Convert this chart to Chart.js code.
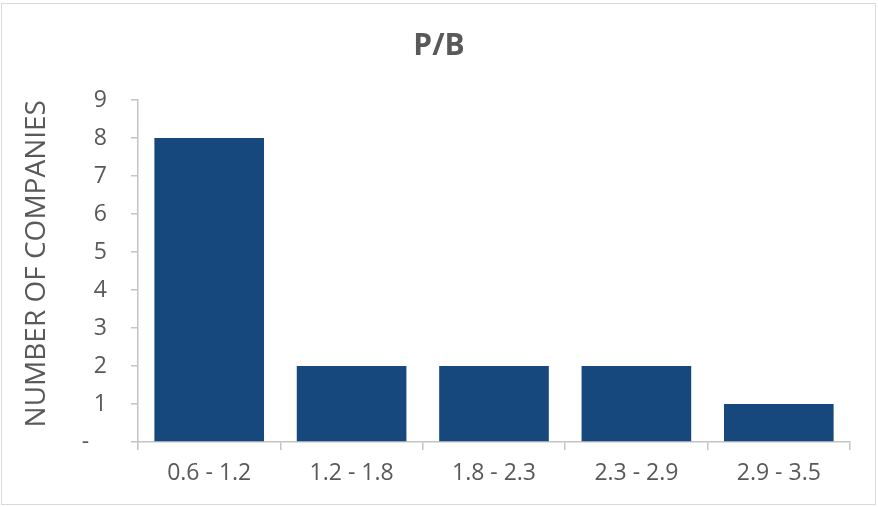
<!DOCTYPE html>
<html>
<head>
<meta charset="utf-8">
<script src="https://cdn.jsdelivr.net/npm/chart.js@4/dist/chart.umd.min.js"></script>
<style>
  html, body { margin: 0; padding: 0; background: #fff; }
  #wrap { position: relative; width: 878px; height: 507px; }
</style>
</head>
<body>
<div id="wrap"><canvas id="pbChart" width="878" height="507"></canvas></div>
<script>
const categories = ['0.6 - 1.2', '1.2 - 1.8', '1.8 - 2.3', '2.3 - 2.9', '2.9 - 3.5'];
const companyCounts = [8, 2, 2, 2, 1];
const yTicks = [0, 1, 2, 3, 4, 5, 6, 7, 8, 9];

const textColor = '#595959';
const axisColor = '#c4c4c4';
const fontFamily = "'Open Sans', sans-serif";

// light frame round the whole chart, title centred on the full width
const framePlugin = {
    id: 'frame',
    afterLayout(chart) {
        const t = chart.titleBlock;
        if (t) {
            t.left = 0;
            t.right = chart.width;
            t.width = chart.width;
        }
    },
    afterDraw(chart) {
        const ctx = chart.ctx;
        ctx.save();
        ctx.strokeStyle = '#d9d9d9';
        ctx.lineWidth = 1;
        ctx.strokeRect(1.5, 3.5, 874, 501);
        ctx.restore();
    }
};

const ctx = document.getElementById('pbChart').getContext('2d');
new Chart(ctx, {
    type: 'bar',
    data: {
        labels: categories,
        datasets: [{
            label: 'Companies',
            data: companyCounts,
            backgroundColor: '#17487d',
            barPercentage: 0.77,
            categoryPercentage: 1
        }]
    },
    options: {
        responsive: false,
        animation: false,
        layout: {padding: {left: 0, right: 28, top: 0, bottom: 0}},
        plugins: {
            legend: {display: false},
            tooltip: {enabled: false},
            title: {
                display: true,
                text: 'P/B',
                color: textColor,
                font: {family: fontFamily, size: 30, weight: 'bold', lineHeight: 1.2},
                padding: {top: 28, bottom: 36}
            }
        },
        scales: {
            x: {
                grid: {
                    drawOnChartArea: false,
                    offset: true,
                    color: axisColor,
                    lineWidth: 1.5,
                    tickLength: 8
                },
                border: {color: axisColor, width: 1.5},
                ticks: {
                    color: textColor,
                    font: {family: fontFamily, size: 23},
                    padding: 10,
                    maxRotation: 0
                },
                afterFit(scale) { scale.height = 65; }
            },
            y: {
                min: 0,
                max: 9,
                afterBuildTicks(scale) {
                    scale.ticks = yTicks.map(v => ({value: v}));
                },
                grid: {
                    drawOnChartArea: false,
                    color: axisColor,
                    lineWidth: 1.5,
                    tickLength: 7
                },
                border: {color: axisColor, width: 1.5},
                ticks: {
                    color: textColor,
                    font: {family: fontFamily, size: 23},
                    padding: 24,
                    callback: v => (v === 0 ? '-   ' : String(v))
                },
                title: {
                    display: true,
                    text: '  NUMBER OF COMPANIES',
                    color: textColor,
                    font: {family: fontFamily, size: 28, lineHeight: 1.2},
                    padding: {top: 20, bottom: 0}
                },
                afterFit(scale) { scale.width = 138; }
            }
        }
    },
    plugins: [framePlugin]
});
</script>
</body>
</html>
